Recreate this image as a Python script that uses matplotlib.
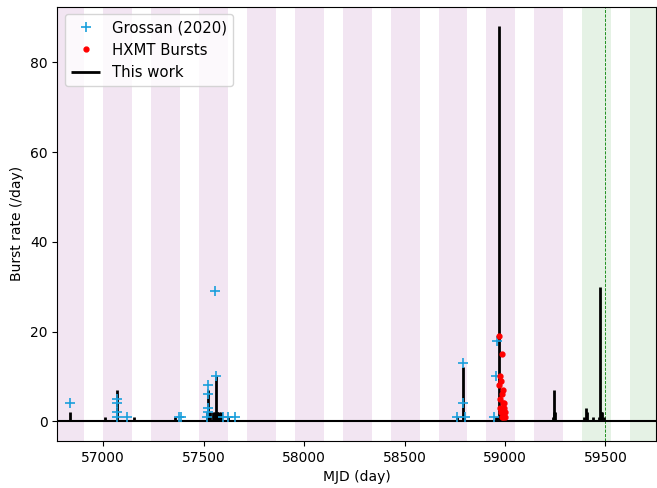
import matplotlib

matplotlib.use("Agg")
import matplotlib.pyplot as plt
import numpy as np

plt.rcParams.update({"font.size": 10})

# activity windows (start MJD), width in days
window_start = [56761.5, 57000, 57238.5, 57477, 57715.5, 57954, 58192.5,
                58431, 58669.5, 58908, 59146.5, 59385, 59623.5]
window_len = 144
predicted_from = 59385  # windows from here on are predictions (green)
data_end = 59500

# this work: daily burst rate
work_mjd = [56836, 57011, 57071, 57153, 57357, 57516, 57521, 57525, 57533,
            57549, 57556, 57561, 57565, 57569, 57579, 57589, 57621, 58761,
            58793, 58797, 58955, 58962, 58969, 58973, 58985, 59240, 59243,
            59246, 59249, 59392, 59404, 59408, 59437, 59468, 59472, 59476,
            59480, 59483, 59491]
work_rate = [2, 1, 7, 1, 1, 2, 7, 2, 2,
             2, 2, 10, 2, 2, 2, 2, 1, 1,
             12, 1, 1, 1, 88, 2, 2, 1, 2,
             7, 2, 1, 3, 2, 1, 1, 30, 2,
             2, 2, 1]

# Grossan (2020)
gros_mjd = [56836, 57071, 57071, 57071, 57071, 57118, 57378, 57388, 57516,
            57521, 57521, 57521, 57521, 57558, 57561, 57599, 57621, 57654,
            58759, 58793, 58793, 58803, 58946, 58957, 58960]
gros_rate = [4, 5, 4, 2, 1, 1, 1, 1, 1,
             8, 6, 3, 2, 29, 10, 1, 1, 1,
             1, 13, 4, 1, 1, 10, 18]

# HXMT bursts
hxmt_mjd = [58969, 58986, 58977, 58981, 58990, 58986, 58974, 58994, 58997,
            58979, 58983, 59002, 58992, 58975, 58998, 58971, 58988]
hxmt_rate = [19, 15, 10, 9, 7, 6, 5, 4, 3,
             2, 1, 2, 1, 3, 1, 8, 4]

fig = plt.figure(figsize=(6.57, 4.88), dpi=100)
ax = fig.add_axes([0.0872, 0.0963, 0.912, 0.8899])

for s in window_start:
    c = "green" if s >= predicted_from else "purple"
    ax.axvspan(s, s + window_len, color=c, alpha=0.1, lw=0, zorder=0)
ax.axvline(data_end, color="green", ls="--", lw=0.6, zorder=1)
ax.axhline(0, color="k", lw=1.5, zorder=2)

ax.plot(gros_mjd, gros_rate, "+", color="#1a9fdc", ms=7, mew=1.2,
        label="Grossan (2020)", zorder=4)
ax.plot(hxmt_mjd, hxmt_rate, ".", color="red", ms=7, label="HXMT Bursts", zorder=5)
ax.vlines(work_mjd, 0, work_rate, color="k", lw=2, label="This work", zorder=3)

ax.set_xlim(56772, 59754)
ax.set_ylim(-4.4, 92.4)
ax.set_xlabel("MJD (day)")
ax.set_ylabel("Burst rate (/day)")
ax.legend(loc="upper left", fontsize=10.7)

fig.savefig("out.png", dpi=100)
